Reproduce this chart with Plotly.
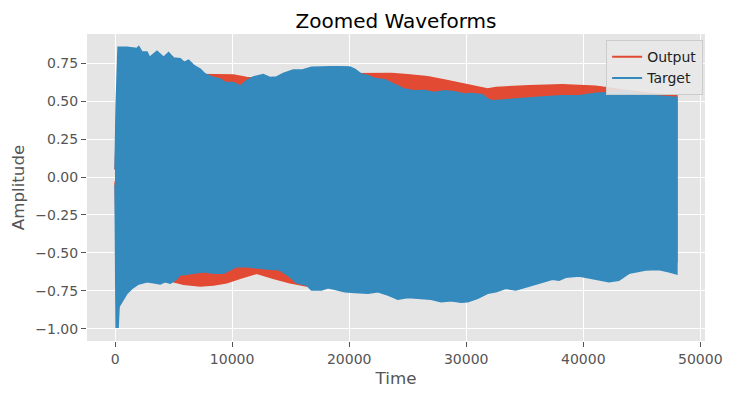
import plotly.graph_objects as go

# ---- data: waveform envelopes (sample index, amplitude) ----
target_upper_x = [0, 85, 255, 1000, 1870, 2020, 2300, 2730, 2950, 3580, 4150, 4570, 5000, 5570,
                  5900, 6280, 6760, 7270, 7690, 8400, 8970, 9400, 10100, 10680, 11240, 11810,
                  12660, 13230, 13800, 14370, 15220, 15930, 16780, 17630, 18480, 19190, 20050,
                  20470, 21040, 21610, 22180, 23030, 23450, 24160, 24730, 25580, 26430, 27290,
                  28140, 28990, 29840, 30410, 31400, 31830, 32250, 33960, 35380, 36800, 38220,
                  39640, 41060, 42480, 43610, 44750, 46170, 47999]
target_upper_y = [0.05, 0.46, 0.855, 0.855, 0.847, 0.86, 0.825, 0.825, 0.79, 0.83, 0.79, 0.82, 0.785,
                  0.78, 0.756, 0.77, 0.734, 0.712, 0.679, 0.657, 0.647, 0.624, 0.624, 0.60, 0.635,
                  0.66, 0.675, 0.657, 0.66, 0.683, 0.705, 0.705, 0.723, 0.727, 0.727, 0.727, 0.725,
                  0.712, 0.679, 0.668, 0.65, 0.641, 0.624, 0.60, 0.58, 0.569, 0.57, 0.558, 0.569,
                  0.563, 0.547, 0.55, 0.543, 0.514, 0.503, 0.514, 0.525, 0.53, 0.536, 0.536, 0.552,
                  0.558, 0.569, 0.552, 0.536, 0.525]

target_lower_x = [0, 85, 255, 340, 600, 1020, 1450, 2020, 2730, 3290, 3860, 4290, 4710, 5140, 5560,
                  6700, 7550, 8400, 9260, 10400, 11240, 12380, 14080, 14930, 15500, 16350, 16780,
                  17630, 18200, 18770, 19620, 20470, 21610, 22460, 23310, 24160, 25010, 26150,
                  27000, 27850, 28710, 29560, 30130, 30980, 31830, 32540, 33390, 34240, 35380,
                  36230, 37370, 37930, 38500, 39640, 40770, 42190, 43040, 43900, 45320, 46450,
                  47300, 47999]
target_lower_y = [-0.05, -0.99, -0.99, -0.855, -0.822, -0.767, -0.734, -0.705, -0.69, -0.697, -0.705,
                  -0.69, -0.70, -0.68, -0.646, -0.635, -0.624, -0.635, -0.635, -0.591, -0.591,
                  -0.602, -0.613, -0.657, -0.697, -0.712, -0.745, -0.745, -0.73, -0.74, -0.756,
                  -0.762, -0.767, -0.756, -0.778, -0.806, -0.795, -0.80, -0.806, -0.822, -0.815,
                  -0.826, -0.822, -0.80, -0.767, -0.756, -0.734, -0.745, -0.718, -0.70, -0.674,
                  -0.68, -0.661, -0.653, -0.668, -0.69, -0.68, -0.635, -0.613, -0.61, -0.624, -0.64]

output_upper_x = [0, 85, 255, 4000, 8120, 10100, 11240, 12000, 13800, 14500, 17000, 21040, 23600,
                  25000, 26700, 28140, 29560, 30690, 31830, 32540, 33960, 35380, 38220, 41060,
                  43900, 46170, 47999]
output_upper_y = [0.05, 0.30, 0.66, 0.68, 0.675, 0.672, 0.657, 0.655, 0.657, 0.665, 0.68, 0.683,
                  0.683, 0.675, 0.661, 0.64, 0.617, 0.598, 0.58, 0.591, 0.598, 0.602, 0.608, 0.598,
                  0.569, 0.547, 0.536]

output_lower_x = [0, 85, 255, 4000, 5000, 5850, 7270, 8400, 9540, 10680, 12100, 13500, 14930,
                  16350, 17000, 20000, 25000, 30000, 35000, 40000, 47999]
output_lower_y = [-0.03, -0.40, -0.66, -0.66, -0.69, -0.707, -0.718, -0.712, -0.697, -0.668,
                  -0.635, -0.668, -0.697, -0.718, -0.70, -0.70, -0.68, -0.64, -0.60, -0.60, -0.56]

series_names = ["Output", "Target"]
series_colors = ["#E24A33", "#348ABD"]

y_ticks = [-1.0, -0.75, -0.5, -0.25, 0.0, 0.25, 0.5, 0.75]
x_ticks = [0, 10000, 20000, 30000, 40000, 50000]

envelopes = [
    (output_upper_x, output_upper_y, output_lower_x, output_lower_y),
    (target_upper_x, target_upper_y, target_lower_x, target_lower_y),
]

fig = go.Figure()
for name, color, (ux, uy, lx, ly) in zip(series_names, series_colors, envelopes):
    px_ = list(ux) + list(reversed(lx))
    py_ = list(uy) + list(reversed(ly))
    fig.add_trace(go.Scatter(x=px_, y=py_, mode="lines", fill="toself", fillcolor=color,
                             line=dict(color=color, width=1.5), showlegend=False,
                             hoverinfo="skip"))
for name, color in zip(series_names, series_colors):
    fig.add_trace(go.Scatter(x=[None], y=[None], mode="lines", name=name,
                             line=dict(color=color, width=2)))

font = "DejaVu Sans, Arial, sans-serif"
fig.update_layout(
    width=732, height=398,
    margin=dict(l=79, r=35, t=26, b=65, autoexpand=False),
    paper_bgcolor="white", plot_bgcolor="#E5E5E5",
    font=dict(family=font, size=14, color="#555555"),
    title=dict(text="Zoomed Waveforms", x=0.5, xref="paper", xanchor="center",
               y=1, yref="paper", yanchor="bottom", pad=dict(b=6),
               font=dict(size=20, color="black", family=font)),
    legend=dict(x=0.997, y=0.98, xanchor="right", yanchor="top",
                bgcolor="rgba(232,232,232,0.9)", bordercolor="#CCCCCC", borderwidth=1,
                font=dict(size=14, color="#222222", family=font),
                tracegroupgap=0, itemwidth=30),
    showlegend=True,
)
fig.update_xaxes(range=[-2400, 50400], tickvals=x_ticks, tickformat="d", automargin=False,
                 ticks="outside", ticklen=5, tickcolor="#555555", tickwidth=1,
                 showgrid=True, gridcolor="white", gridwidth=1, zeroline=False, showline=False,
                 title=dict(text="Time", font=dict(size=16.7, color="#555555"), standoff=6),
                 tickfont=dict(size=14, color="#555555"))
fig.update_yaxes(range=[-1.081, 0.943], tickvals=y_ticks, tickformat=".2f", automargin=False,
                 ticks="outside", ticklen=5, tickcolor="#555555", tickwidth=1,
                 showgrid=True, gridcolor="white", gridwidth=1, zeroline=False, showline=False,
                 title=dict(text="Amplitude", font=dict(size=16.7, color="#555555"), standoff=8),
                 tickfont=dict(size=14, color="#555555"))

fig.write_html("out.html")
